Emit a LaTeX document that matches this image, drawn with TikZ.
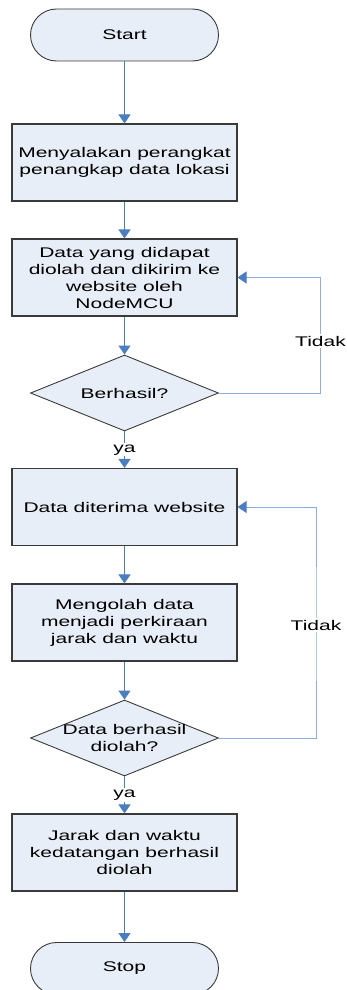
\documentclass[tikz,border=0pt]{standalone}
\usepackage{fontspec}
\setmainfont{Liberation Sans}[FakeStretch = 1.5]
\usepackage{tikz}
\usetikzlibrary{shapes.geometric, arrows.meta}
\usepackage{xcolor}
\definecolor{riempimento}{HTML}{E8EEF7}
\definecolor{freccia}{HTML}{4A7EC0}
\definecolor{ritorno}{HTML}{8EAFDD}
\definecolor{bordo}{HTML}{3A3A3A}
\newcommand{\puntaFreccia}{Triangle[width = 12pt, length = 9pt, color = freccia]}

\begin{document}
\begin{tikzpicture}[x = 1pt, y = 1pt,
    font = \fontsize{14}{17}\selectfont,
    blocco/.style = {draw = bordo, line width = 1.1pt, fill = riempimento, minimum width = 225pt, minimum height = 77pt, align = center, inner sep = 0pt},
    terminale/.style = {draw = bordo, line width = 0.9pt, fill = riempimento, rounded corners = 26pt, minimum width = 188pt, minimum height = 52pt},
    decisione/.style = {diamond, draw = bordo, line width = 0.9pt, fill = riempimento, minimum width = 188pt, minimum height = 76pt, inner sep = 0pt},
    testo/.style = {align = center, inner sep = 0pt},
    passo/.style = {draw = freccia, line width = 1pt, -{\puntaFreccia}},
    giro/.style = {draw = ritorno, line width = 0.8pt, -{\puntaFreccia}},
    etichetta/.style = {fill = white, inner sep = 1.5pt}]
    % Riquadro della pagina
    \useasboundingbox (0,0) rectangle (346,-990);
    % Griglia
    %\draw[thin, gray, step = 50] (0,0) grid (346,-990);
    % Centri dei blocchi
    \coordinate (c1) at (124.5,-35);
    \coordinate (c2) at (124.5,-162.5);
    \coordinate (c3) at (124.5,-277.5);
    \coordinate (c4) at (124.5,-393);
    \coordinate (c5) at (124.5,-507);
    \coordinate (c6) at (124.5,-622.5);
    \coordinate (c7) at (124.5,-738);
    \coordinate (c8) at (124.5,-852.5);
    \coordinate (c9) at (124.5,-968.5);
    % Punti dei cicli di ritorno
    \coordinate (giro1) at (320.5,-341);
    \coordinate (giro2) at (316,-625);
    % Blocchi
    \node[terminale] (start) at (c1) {Start};
    \node[blocco] (nyala) at (c2) {Menyalakan perangkat\\penangkap data lokasi};
    \node[blocco] (kirim) at (c3) {Data yang didapat\\diolah dan dikirim ke\\website oleh\\NodeMCU};
    \node[decisione, label = {[testo]center:Berhasil?}] (cek1) at (c4) {};
    \node[blocco] (terima) at (c5) {Data diterima website};
    \node[blocco] (olah) at (c6) {Mengolah data\\menjadi perkiraan\\jarak dan waktu};
    \node[decisione, label = {[testo]center:{Data berhasil\\diolah?}}] (cek2) at (c7) {};
    \node[blocco] (hasil) at (c8) {Jarak dan waktu\\kedatangan berhasil\\diolah};
    \node[terminale] (stop) at (c9) {Stop};
    % Frecce principali
    \draw[passo] (start) -- (nyala);
    \draw[passo] (nyala) -- (kirim);
    \draw[passo] (kirim) -- (cek1);
    \draw[passo] (cek1) -- node[pos = 0.5, etichetta]{ya} (terima);
    \draw[passo] (terima) -- (olah);
    \draw[passo] (olah) -- (cek2);
    \draw[passo] (cek2) -- node[pos = 0.5, etichetta]{ya} (hasil);
    \draw[passo] (hasil) -- (stop);
    % Cicli di ritorno
    \draw[giro] (cek1.east) -| (giro1) |- (kirim.east);
    \node[etichetta] (tidak1) at (giro1) {Tidak};
    \draw[giro] (cek2.east) -| (giro2) |- (terima.east);
    \node[etichetta] (tidak2) at (giro2) {Tidak};
\end{tikzpicture}
\end{document}
